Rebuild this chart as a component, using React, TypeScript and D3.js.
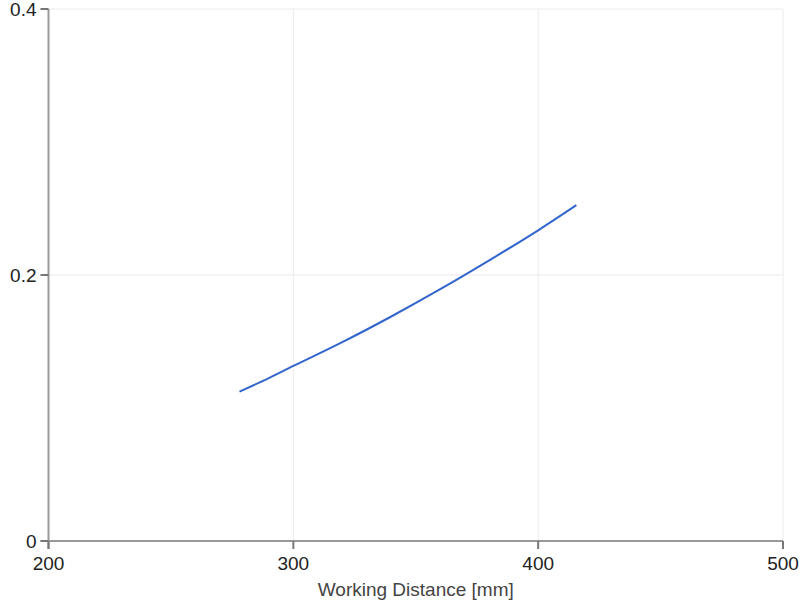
import React from "react";
import * as d3 from "d3";

const distances = [278, 290, 300, 320, 340, 360, 380, 400, 415.6];
const values = [0.1123, 0.1225, 0.1316, 0.1495, 0.1688, 0.1893, 0.2110, 0.2336, 0.2525];
const xTicks = [200, 300, 400, 500];
const yTicks = [0, 0.2, 0.4];
const yTickLabels = ["0", "0.2", "0.4"];
const xTitle = "Working Distance [mm]";

const W = 800;
const H = 602;
const left = 48.5;
const right = 783;
const top = 9;
const bottom = 541;

export default function App() {
  const x = d3.scaleLinear().domain([200, 500]).range([left, right]);
  const y = d3.scaleLinear().domain([0, 0.4]).range([bottom, top]);
  const pts = distances.map((d, i) => [d, values[i]] as [number, number]);
  const line = d3
    .line<[number, number]>()
    .x((d) => x(d[0]))
    .y((d) => y(d[1]))
    .curve(d3.curveMonotoneX);
  const font = "Arial, 'Liberation Sans', sans-serif";
  return (
    <svg
      width={W}
      height={H}
      style={{ position: "absolute", left: 0, top: 0, background: "#fff" }}
    >
      {xTicks.slice(1).map((t) => (
        <line key={"gx" + t} x1={x(t)} x2={x(t)} y1={top} y2={bottom} stroke="#ebebeb" strokeWidth={1} />
      ))}
      {yTicks.slice(1).map((t) => (
        <line key={"gy" + t} x1={left} x2={right} y1={y(t)} y2={y(t)} stroke="#ebebeb" strokeWidth={1} />
      ))}
      <path d={line(pts) || ""} fill="none" stroke="#3366cc" strokeWidth={2} />
      <line x1={left} x2={left} y1={top} y2={bottom + 8} stroke="#999" strokeWidth={2} />
      <line x1={left - 8} x2={right} y1={bottom} y2={bottom} stroke="#999" strokeWidth={2} />
      {yTicks.map((t) => (
        <line key={"ty" + t} x1={left - 8} x2={left} y1={y(t)} y2={y(t)} stroke="#777" strokeWidth={2} />
      ))}
      {xTicks.map((t) => (
        <line key={"tx" + t} x1={x(t)} x2={x(t)} y1={bottom} y2={bottom + 8} stroke="#777" strokeWidth={2} />
      ))}
      {yTicks.map((t, i) => (
        <text
          key={"ly" + t}
          x={left - 12}
          y={y(t)}
          dy="0.35em"
          textAnchor="end"
          fontFamily={font}
          fontSize={19}
          fill="#222"
        >
          {yTickLabels[i]}
        </text>
      ))}
      {xTicks.map((t) => (
        <text
          key={"lx" + t}
          x={x(t)}
          y={570}
          textAnchor="middle"
          fontFamily={font}
          fontSize={19}
          fill="#222"
        >
          {t}
        </text>
      ))}
      <text
        x={(left + right) / 2}
        y={596}
        textAnchor="middle"
        fontFamily={font}
        fontSize={19}
        fill="#444"
      >
        {xTitle}
      </text>
    </svg>
  );
}
